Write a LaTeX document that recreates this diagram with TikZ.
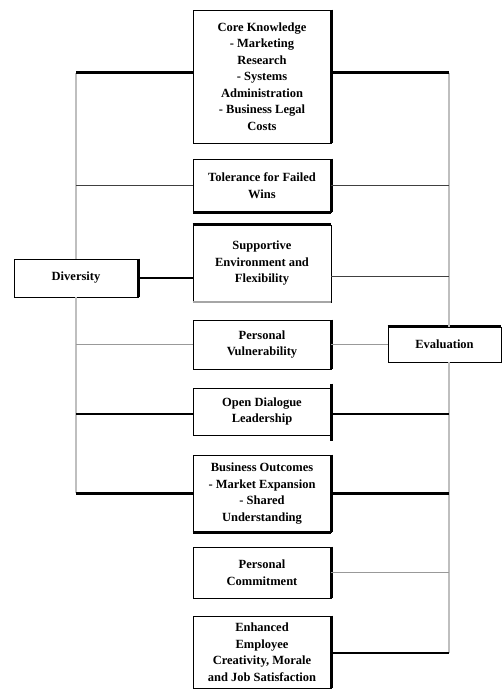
\documentclass[tikz,border=0pt]{standalone}
\usepackage{fontspec}
\setmainfont{Liberation Serif}
\begin{document}
\begin{tikzpicture}[x=1pt,y=-1pt,
  box/.style={draw=black, line width=0.9pt, fill=white, inner sep=0pt, align=center,
    minimum width=138pt, font=\fontsize{12.5}{16.5}\selectfont\bfseries},
  side/.style={line width=3pt, line cap=butt},
  thickc/.style={line width=3pt, black},
  medc/.style={line width=1.8pt, black},
  thinc/.style={line width=1pt, black!75},
  grayc/.style={line width=1pt, black!40},
  vline/.style={line width=1.6pt, black!25}]
\useasboundingbox (0,0) rectangle (502,690);
% central boxes
\node[box, minimum height=133pt] (b1) at (262,76.5) {Core Knowledge\\- Marketing\\Research\\- Systems\\Administration\\- Business Legal\\Costs};
\node[box, minimum height=53pt] (b2) at (262,185.5) {Tolerance for Failed\\Wins};
\node[box, minimum height=77pt] (b3) at (262,263.5) {Supportive\\Environment and\\Flexibility};
\node[box, minimum height=49pt] (b4) at (262,344.5) {Personal\\Vulnerability};
\node[box, minimum height=47pt] (b5) at (262,411.5) {Open Dialogue\\Leadership};
\node[box, minimum height=77pt] (b6) at (262,493.5) {Business Outcomes\\- Market Expansion\\- Shared\\Understanding};
\node[box, minimum height=51pt] (b7) at (262,572.5) {Personal\\Commitment};
\node[box, minimum height=72pt] (b8) at (262,652) {Enhanced\\Employee\\Creativity, Morale\\and Job Satisfaction};
% side nodes
\node[box, minimum width=124pt, minimum height=38pt] (div) at (76,278) {Diversity};
\node[box, minimum width=113pt, minimum height=35pt] (eval) at (444.5,344.5) {Evaluation};
% emphasised box sides
\draw[side] (b1.north east) -- (b1.south east);
\draw[side] (b2.north east) -- (b2.south east);
\draw[side] (b2.south west) -- (b2.south east);
\draw[side] (b3.north west) -- (b3.north east);
\draw[line width=2pt, black!35] (b3.south west) -- (b3.south east);
\draw[side] (b4.north east) -- (b4.south east);
\draw[side] ([yshift=4pt]b5.north east) -- ([yshift=-6pt]b5.south east);
\draw[side] (b6.north east) -- (b6.south east);
\draw[side] (b6.south west) -- (b6.south east);
\draw[side] (b7.north east) -- (b7.south east);
\draw[side] (b8.north east) -- (b8.south east);
\draw[side] (div.north east) -- (div.south east);
\draw[side] (eval.north west) -- (eval.north east);
% trunk coordinates
\coordinate (lt) at (76,73);
\coordinate (lb) at (76,493);
\coordinate (rt) at (449,73);
\coordinate (rb) at (449,653);
% vertical trunks
\draw[vline] (lt) -- (div.north -| lt);
\draw[vline] (div.south -| lt) -- (lb);
\draw[vline] (rt) -- (eval.north -| rt);
\draw[vline] (eval.south -| rt) -- (rb);
% left connectors
\draw[thickc] (lt) -- (lt -| b1.west);
\draw[thinc] (b2.west -| lt) -- (b2.west);
\draw[medc] (div.east) -- (div.east -| b3.west);
\draw[grayc] (b4.west -| lt) -- (b4.west);
\draw[medc] (76,414) -- (76,414 -| b5.west);
\draw[thickc] (lb) -- (lb -| b6.west);
% right connectors
\draw[thickc] (rt -| b1.east) -- (rt);
\draw[thinc] (b2.east) -- (b2.east -| rt);
\draw[thinc] (331,276) -- (449,276);
\draw[grayc] (b4.east) -- (b4.east -| eval.west);
\draw[medc] (331,414) -- (449,414);
\draw[thickc] (b6.east) -- (b6.east -| rt);
\draw[grayc] (b7.east) -- (b7.east -| rt);
\draw[medc] (b8.east |- rb) -- (rb);
\end{tikzpicture}
\end{document}
